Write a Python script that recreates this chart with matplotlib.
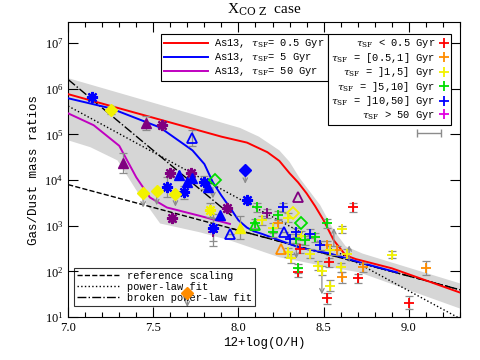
import numpy as np
import matplotlib
matplotlib.use("Agg")
import matplotlib.pyplot as plt
from matplotlib.lines import Line2D
from matplotlib.ticker import MultipleLocator, LogLocator, NullLocator

plt.rcParams['font.family'] = ['Liberation Serif', 'DejaVu Serif']
plt.rcParams['mathtext.fontset'] = 'dejavuserif'

# =====================================================
# DATA  (x = 12+log(O/H), y = log10 gas/dust)
# =====================================================

# model envelope (grey band)
band_up_x = [7.00, 7.89, 8.01, 8.12, 8.24, 8.30, 8.36, 8.48, 8.56, 8.63, 8.73, 9.30]
band_up_y = [6.23, 5.27, 5.14, 4.95, 4.65, 4.40, 4.04, 3.45, 2.90, 2.55, 2.39, 1.74]
band_lo_x = [7.00, 7.13, 7.29, 7.40, 7.54, 7.77, 7.95, 8.24, 8.54, 8.71, 9.30]
band_lo_y = [4.87, 4.72, 4.43, 3.78, 3.05, 2.86, 2.68, 2.31, 2.09, 1.98, 1.19]

# Asano+13 models
as05_x = [7.00, 7.30, 7.60, 7.90, 8.05, 8.17, 8.24, 8.30, 8.35, 8.40, 8.45, 8.50,
          8.56, 8.63, 8.69, 8.90, 9.30]
as05_y = [5.88, 5.57, 5.26, 4.95, 4.82, 4.61, 4.42, 4.15, 3.95, 3.71, 3.43, 3.12,
          2.68, 2.35, 2.27, 2.07, 1.54]
as5_x = [7.00, 7.25, 7.54, 7.73, 7.80, 7.85, 7.90, 7.95, 8.00, 8.05, 8.09, 8.14,
         8.36, 8.54, 8.73, 8.93]
as5_y = [5.79, 5.57, 5.15, 4.65, 4.35, 3.95, 3.66, 3.40, 3.12, 2.96, 2.88, 2.82,
         2.52, 2.39, 2.18, 1.98]
as50_x = [7.00, 7.15, 7.30, 7.40, 7.48, 7.58, 7.77, 7.95]
as50_y = [5.46, 5.20, 4.75, 4.06, 3.62, 3.40, 3.22, 3.04]

# fits
ref_x = [7.0, 9.3]
ref_y = [3.90, 1.60]
pl_x = [7.0, 9.3]
pl_y = [5.62, 0.97]
bpl_lo_x = [7.0, 7.96]
bpl_lo_y = [6.20, 3.22]
bpl_hi_x = [7.96, 9.3]
bpl_hi_y = [2.94, 1.60]

# crosses, by tau_SF bin
red_x = [8.67, 8.36, 8.35, 8.53, 8.70, 8.52, 9.00]
red_y = [3.40, 2.50, 1.98, 2.20, 1.85, 1.41, 1.32]
red_e = [0.09, 0.10, 0.10, 0.10, 0.10, 0.12, 0.15]
ora_x = [8.23, 8.52, 8.58, 8.61, 8.73, 9.10]
ora_y = [3.05, 2.57, 2.46, 1.87, 2.09, 2.07]
ora_e = [0.10, 0.10, 0.10, 0.12, 0.10, 0.15]
yel_x = [8.29, 8.14, 8.61, 8.90, 8.29, 8.31, 8.42, 8.54, 8.64, 8.47, 8.49, 8.60, 8.54, 8.20, 8.37]
yel_y = [3.18, 3.12, 2.92, 2.37, 2.42, 2.29, 2.39, 2.46, 2.39, 2.13, 2.02, 2.09, 1.69, 2.95, 2.78]
yel_e = [0.10, 0.10, 0.08, 0.08, 0.10, 0.10, 0.10, 0.10, 0.10, 0.10, 0.10, 0.10, 0.12, 0.10, 0.10]
gre_x = [8.11, 8.23, 8.52, 8.10, 8.20, 8.34, 8.39, 8.45, 8.35]
gre_y = [3.40, 3.23, 3.05, 3.05, 2.86, 2.72, 2.68, 2.75, 2.07]
gre_e = [0.10, 0.10, 0.10, 0.10, 0.10, 0.10, 0.10, 0.10, 0.10]
blu_x = [8.26, 8.34, 8.30, 8.42, 8.48]
blu_y = [3.40, 2.86, 2.72, 2.83, 2.57]
blu_e = [0.10, 0.10, 0.10, 0.10, 0.10]
mag_x = [8.17, 7.85]
mag_y = [3.27, 2.86]
mag_e = [0.10, 0.30]

# other samples
bstar_x = [7.14, 7.58, 7.68, 7.80, 8.05, 7.85]
bstar_y = [5.82, 3.84, 3.73, 3.95, 3.56, 2.96]
bstar_e = [0.00, 0.22, 0.15, 0.15, 0.00, 0.30]
pstar_x = [7.55, 7.60, 7.72, 7.93, 7.61]
pstar_y = [5.20, 4.15, 4.15, 3.38, 3.16]
ptri_x = [7.46, 7.32]
ptri_y = [5.25, 4.37]
ptri_e = [0.15, 0.22]
btri_x = [7.65, 7.70, 7.73, 7.82, 7.89]
btri_y = [4.11, 3.95, 4.04, 3.84, 3.23]
btri_open_x = [7.73, 7.95, 8.27]
btri_open_y = [4.92, 2.83, 2.86]
btri_open_e = [0.18, 0.0, 0.0]
ptri_open_x = [8.35]
ptri_open_y = [3.62]
otri_open_x = [8.25]
otri_open_y = [2.50]
gtri_open_x = [8.10]
gtri_open_y = [3.01]
ytri_x = [8.01]
ytri_y = [2.96]
ytri_e = [0.25]
ydia_x = [7.25, 7.44, 7.52, 7.63]
ydia_y = [5.53, 3.71, 3.75, 3.69]
ystar_x = [7.83]
ystar_y = [3.34]
bdia_x = [8.04]
bdia_y = [4.21]
gdia_open_x = [7.86, 8.37]
gdia_open_y = [4.00, 3.07]
ydia_open_x = [8.32]
ydia_open_y = [3.29]
odia_x = [7.70]
odia_y = [1.52]

# grey limit arrows: x, start, end
down_x = [7.44, 7.52, 7.63, 8.04, 7.70, 7.85, 8.34, 8.49]
down_y0 = [3.71, 3.75, 3.69, 4.21, 1.52, 3.84, 2.72, 2.02]
down_y1 = [3.40, 3.45, 3.42, 3.92, 1.22, 3.60, 2.28, 1.50]
up_x = [8.56, 8.65]
up_y0 = [2.55, 2.22]
up_y1 = [2.95, 2.57]

# representative error bar
rep_x = 9.12
rep_y = 5.03
rep_xerr = 0.07

# =====================================================
# PLOT
# =====================================================

c_red, c_ora, c_yel = '#ff0000', '#ff8c00', '#f2f200'
c_gre, c_blu, c_mag = '#00dd00', '#0000ff', '#e000e0'
c_pur = '#800080'
c_grey = '#8c8c8c'
mono = ['Liberation Mono', 'DejaVu Sans Mono']

fig = plt.figure(figsize=(4.8, 3.6), dpi=100)
ax = fig.add_axes([0.142, 0.119, 0.816, 0.820])

def p(v):
    return 10 ** np.asarray(v, dtype=float)

ax.fill(np.r_[band_up_x, band_lo_x[::-1]], p(np.r_[band_up_y, band_lo_y[::-1]]),
        color='#d6d6d6', lw=0, zorder=1)

# fits
ax.plot(ref_x, p(ref_y), 'k--', lw=1.0, zorder=3)
ax.plot(pl_x, p(pl_y), 'k:', lw=1.0, zorder=3)
ax.plot(bpl_lo_x, p(bpl_lo_y), 'k-.', lw=1.0, zorder=3)
ax.plot(bpl_hi_x, p(bpl_hi_y), 'k-.', lw=1.0, zorder=3)

# models
ax.plot(as05_x, p(as05_y), color=c_red, lw=1.4, zorder=4)
ax.plot(as5_x, p(as5_y), color=c_blu, lw=1.4, zorder=4)
ax.plot(as50_x, p(as50_y), color='#c000c0', lw=1.4, zorder=4)

# limit arrows
for x, y0, y1 in zip(down_x + up_x, down_y0 + up_y0, down_y1 + up_y1):
    ax.annotate('', xy=(x, 10 ** y1), xytext=(x, 10 ** y0),
                arrowprops=dict(arrowstyle='->', color=c_grey, lw=0.9,
                                mutation_scale=8, shrinkA=0, shrinkB=0),
                zorder=5)

def errs(x, y, e):
    y = np.asarray(y)
    e = np.asarray(e)
    lo = p(y) - p(y - e)
    hi = p(y + e) - p(y)
    ax.errorbar(x, p(y), yerr=[lo, hi], fmt='none', ecolor=c_grey,
                elinewidth=0.9, capsize=3, capthick=0.9, zorder=5)

for xs, ys, es, c in [(red_x, red_y, red_e, c_red), (ora_x, ora_y, ora_e, c_ora),
                      (yel_x, yel_y, yel_e, c_yel), (gre_x, gre_y, gre_e, c_gre),
                      (blu_x, blu_y, blu_e, c_blu), (mag_x, mag_y, mag_e, c_pur)]:
    errs(xs, ys, es)
    ax.plot(xs, p(ys), ls='none', marker='+', ms=7, mew=1.3, color=c, zorder=6)

errs(bstar_x, bstar_y, bstar_e)
errs(ptri_x, ptri_y, ptri_e)
errs(btri_open_x, btri_open_y, btri_open_e)
errs(ytri_x, ytri_y, ytri_e)
errs(ystar_x, ystar_y, [0.15])
errs(pstar_x, pstar_y, [0.08] * len(pstar_x))
errs(ydia_x[:1], ydia_y[:1], [0.08])

star = (8, 2, 0)
ax.plot(bstar_x, p(bstar_y), ls='none', marker=star, ms=8, mew=1.6, color=c_blu, zorder=7)
ax.plot(pstar_x, p(pstar_y), ls='none', marker=star, ms=8, mew=1.6, color=c_pur, zorder=7)
ax.plot(ystar_x, p(ystar_y), ls='none', marker=star, ms=8, mew=1.6, color=c_yel, zorder=7)
ax.plot(ptri_x, p(ptri_y), ls='none', marker='^', ms=7, color=c_pur, zorder=7)
ax.plot(btri_x, p(btri_y), ls='none', marker='^', ms=7, color=c_blu, zorder=7)
ax.plot(ytri_x, p(ytri_y), ls='none', marker='^', ms=7, color=c_yel, zorder=7)
for xs, ys, c in [(btri_open_x, btri_open_y, c_blu), (ptri_open_x, ptri_open_y, c_pur),
                  (otri_open_x, otri_open_y, c_ora), (gtri_open_x, gtri_open_y, c_gre)]:
    ax.plot(xs, p(ys), ls='none', marker='^', ms=7, mfc='none', mec=c, mew=1.3, zorder=7)
ax.plot(ydia_x, p(ydia_y), ls='none', marker='D', ms=6, color=c_yel, zorder=7)
ax.plot(bdia_x, p(bdia_y), ls='none', marker='D', ms=6, color=c_blu, zorder=7)
ax.plot(odia_x, p(odia_y), ls='none', marker='D', ms=6, color=c_ora, zorder=7)
for xs, ys, c in [(gdia_open_x, gdia_open_y, c_gre), (ydia_open_x, ydia_open_y, c_yel)]:
    ax.plot(xs, p(ys), ls='none', marker='D', ms=6, mfc='none', mec=c, mew=1.3, zorder=7)

ax.errorbar([rep_x], [10 ** rep_y], xerr=[rep_xerr], fmt='none', ecolor=c_grey,
            elinewidth=1.0, capsize=3, capthick=1.0)

# axes
ax.set_yscale('log')
ax.set_xlim(7.0, 9.3)
ax.set_ylim(10, 10 ** 7.46)
ax.set_xticks([7.0, 7.5, 8.0, 8.5, 9.0])
ax.set_xticklabels(['7.0', '7.5', '8.0', '8.5', '9.0'])
ax.xaxis.set_minor_locator(MultipleLocator(0.1))
ax.yaxis.set_major_locator(LogLocator(base=10, numticks=10))
ax.yaxis.set_minor_locator(NullLocator())
ax.tick_params(which='both', direction='in', top=True, right=True, labelsize=9)
ax.tick_params(which='major', length=7, width=0.8)
ax.tick_params(which='minor', length=3.5, width=0.8)

ax.set_xlabel('12+log(O/H)', fontsize=9, family=mono, labelpad=2)
ax.set_ylabel('Gas/Dust mass ratios', fontsize=9, family=mono, labelpad=3)
ax.set_title(r'X$_{\rm CO\ Z}$  case', fontsize=11, pad=6)

# legends
h1 = [Line2D([], [], color=c_red, lw=1.4), Line2D([], [], color=c_blu, lw=1.4),
      Line2D([], [], color='#c000c0', lw=1.4)]
l1 = [r'As13, $\tau_{\rm SF}$= 0.5 Gyr', r'As13, $\tau_{\rm SF}$= 5 Gyr',
      r'As13, $\tau_{\rm SF}$= 50 Gyr']
leg1 = ax.legend(h1, l1, loc='upper left', bbox_to_anchor=(0.237, 0.959),
                 borderaxespad=0, prop={'family': mono, 'size': 7.5},
                 handlelength=4.2, labelspacing=0.1,
                 handletextpad=0.6, borderpad=0.3, fancybox=False, framealpha=1,
                 edgecolor='k')
leg1.get_frame().set_linewidth(0.8)
ax.add_artist(leg1)

h2 = [Line2D([], [], ls='none', marker='+', ms=7, mew=1.3, color=c)
      for c in [c_red, c_ora, c_yel, c_gre, c_blu, c_mag]]
l2 = [r'$\tau_{\rm SF}$ < 0.5 Gyr', r'$\tau_{\rm SF}$ = [0.5,1] Gyr',
      r'$\tau_{\rm SF}$ = ]1,5] Gyr', r'$\tau_{\rm SF}$ = ]5,10] Gyr',
      r'$\tau_{\rm SF}$ = ]10,50] Gyr', r'$\tau_{\rm SF}$ > 50 Gyr']
leg2 = ax.legend(h2, l2, loc='upper right', bbox_to_anchor=(0.977, 0.959),
                 borderaxespad=0, prop={'family': mono, 'size': 7.5},
                 handlelength=0.8, labelspacing=0.05,
                 handletextpad=0.4, borderpad=0.3, markerfirst=False, fancybox=False,
                 framealpha=1, edgecolor='k')
leg2.get_frame().set_linewidth(0.8)
ax.add_artist(leg2)

h3 = [Line2D([], [], color='k', ls='--', lw=1.0), Line2D([], [], color='k', ls=':', lw=1.0),
      Line2D([], [], color='k', ls='-.', lw=1.0)]
l3 = ['reference scaling', 'power-law fit', 'broken power-law fit']
leg3 = ax.legend(h3, l3, loc='lower left', bbox_to_anchor=(0.015, 0.037),
                 borderaxespad=0, prop={'family': mono, 'size': 7.5},
                 handlelength=4.2, labelspacing=0.1,
                 handletextpad=0.6, borderpad=0.3, fancybox=False,
                 edgecolor='k')
leg3.get_frame().set_facecolor('none')
leg3.get_frame().set_linewidth(0.8)

fig.savefig('out.png', dpi=100)
